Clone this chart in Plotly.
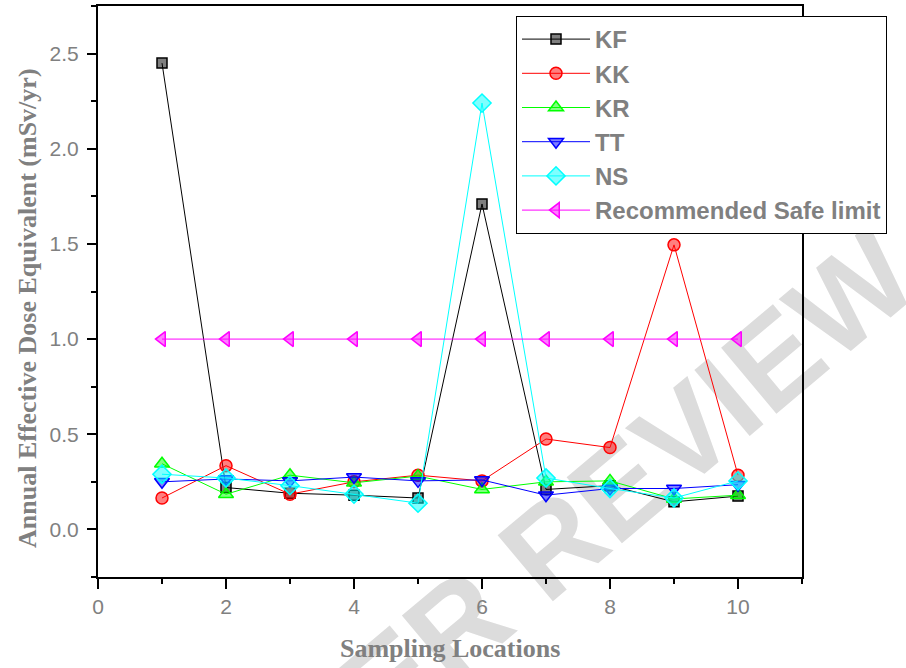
import plotly.graph_objects as go

locations = [1, 2, 3, 4, 5, 6, 7, 8, 9, 10]
kf = [2.45, 0.22, 0.19, 0.18, 0.165, 1.71, 0.21, 0.23, 0.145, 0.175]
kk = [0.165, 0.335, 0.185, 0.25, 0.285, 0.255, 0.475, 0.43, 1.495, 0.285]
kr = [0.345, 0.185, 0.285, 0.245, 0.28, 0.21, 0.25, 0.255, 0.16, 0.18]
tt = [0.25, 0.265, 0.255, 0.275, 0.255, 0.26, 0.18, 0.215, 0.215, 0.235]
ns = [0.29, 0.27, 0.23, 0.185, 0.138, 2.24, 0.27, 0.215, 0.165, 0.255]
safe_limit = [1.0] * 10

x_ticks = [0, 2, 4, 6, 8, 10]
y_ticks = [0.0, 0.5, 1.0, 1.5, 2.0, 2.5]
y_tick_text = ["0.0", "0.5", "1.0", "1.5", "2.0", "2.5"]

series = [
    ("KF", kf, "black", "rgba(0,0,0,0.5)", "square", 10),
    ("KK", kk, "red", "rgba(255,0,0,0.5)", "circle", 12),
    ("KR", kr, "#00ff00", "rgba(0,255,0,0.5)", "triangle-up", 13),
    ("TT", tt, "blue", "rgba(0,0,255,0.5)", "triangle-down", 13),
    ("NS", ns, "cyan", "rgba(0,255,255,0.5)", "diamond", 14),
    ("Recommended Safe limit", safe_limit, "magenta", "rgba(255,0,255,0.5)", "triangle-left", 13),
]

fig = go.Figure()
for name, vals, col, fill, sym, size in series:
    fig.add_trace(go.Scatter(
        x=locations, y=vals, name=name, mode="lines+markers",
        line=dict(color=col, width=1),
        marker=dict(symbol=sym, size=size, color=fill, line=dict(color=col, width=1.5)),
    ))

W, H = 906, 668
L, R, T, B = 98, 104, 6, 91
pw, ph = W - L - R, H - T - B

def px(xp):
    return (xp - L) / pw

def py(yp):
    return (H - B - yp) / ph

fig.update_layout(
    width=W, height=H,
    margin=dict(l=L, r=R, t=T, b=B, pad=0, autoexpand=False),
    paper_bgcolor="white", plot_bgcolor="white",
    showlegend=True,
    legend=dict(
        x=px(516), y=py(16), xanchor="left", yanchor="top",
        bgcolor="white", bordercolor="black", borderwidth=1,
        font=dict(family="Liberation Sans, Arial", size=24, color="#808080", weight="bold"),
        tracegroupgap=0, itemwidth=68,
    ),
    xaxis=dict(
        range=[0, 11], tickvals=x_ticks, ticks="outside", ticklen=10, tickwidth=2,
        tickcolor="black", showline=True, linecolor="black", linewidth=2, mirror=True,
        showgrid=False, zeroline=False, automargin=False,
        tickfont=dict(family="Liberation Sans, Arial", size=21, color="#808080"),
        minor=dict(tickvals=[1, 3, 5, 7, 9, 11], ticks="outside", ticklen=5, tickwidth=2, tickcolor="black"),
    ),
    yaxis=dict(
        range=[-0.25, 2.75], tickvals=y_ticks, ticktext=y_tick_text,
        ticks="outside", ticklen=9, tickwidth=2, ticklabelstandoff=4,
        tickcolor="black", showline=True, linecolor="black", linewidth=2, mirror=True,
        showgrid=False, zeroline=False, automargin=False,
        tickfont=dict(family="Liberation Sans, Arial", size=21, color="#808080"),
        minor=dict(tickvals=[-0.25, 0.25, 0.75, 1.25, 1.75, 2.25, 2.75], ticks="outside", ticklen=5, tickwidth=2, tickcolor="black"),
    ),
    annotations=[
        dict(text="Annual Effective Dose Equivalent (mSv/yr)", xref="paper", yref="paper",
             x=px(28), y=py(308), xanchor="center", yanchor="middle", textangle=-90, showarrow=False,
             font=dict(family="Liberation Serif, Times New Roman", size=26, color="#808080", weight="bold")),
        dict(text="Sampling Locations", xref="paper", yref="paper",
             x=px(450), y=py(648), xanchor="center", yanchor="middle", showarrow=False,
             font=dict(family="Liberation Serif, Times New Roman", size=26, color="#808080", weight="bold")),
    ],
    shapes=[
        dict(type="rect", xref="paper", yref="paper",
             x0=px(506), x1=px(606), y0=py(576), y1=py(476),
             line=dict(width=0), fillcolor="rgba(0,0,0,0)", layer="below",
             label=dict(text="PEER REVIEW", textangle=-40, textposition="middle center",
                        font=dict(family="Liberation Sans, Arial", size=125,
                                  color="#dcdcdc", weight="bold"))),
    ],
)

fig.write_html(
    "out.html",
    config={"displayModeBar": False},
    post_script="document.body.style.margin='0';document.body.style.overflow='hidden';",
)
